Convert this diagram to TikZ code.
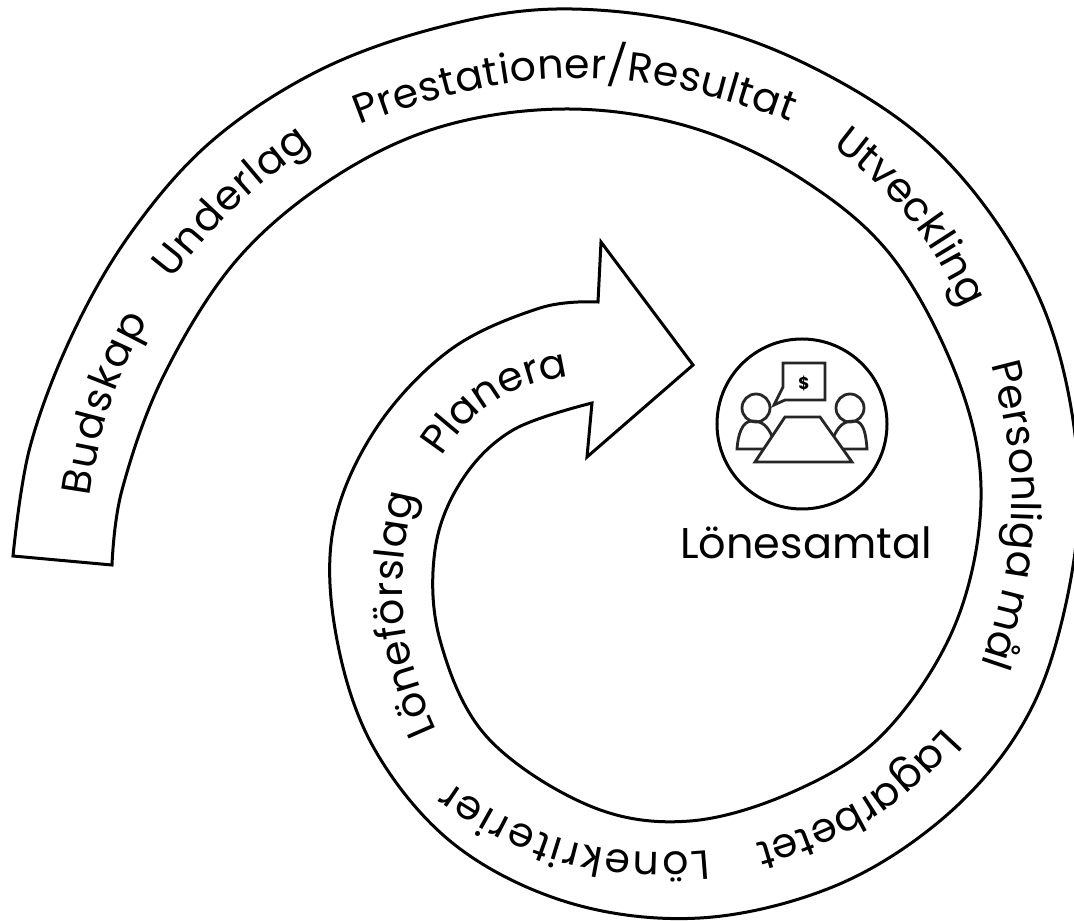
\documentclass[tikz,border=0pt]{standalone}
\usepackage{fontspec}
\setmainfont{Poppins}
\usetikzlibrary{decorations.text}
\tikzset{
 word/.style={decorate,decoration={text along path,text align=fit to path,text={|\fontsize{41}{44}\selectfont|#1}}},
 outline/.style={draw=black,line width=3pt,line join=miter,fill=white},
 icon/.style={draw=black!85,line width=2.8pt,line join=miter},
}
\begin{document}
\begin{tikzpicture}[x=1pt,y=1pt,shift={(0pt,921pt)}]
\useasboundingbox (0,0) rectangle (1074,-921);
% spiral arrow
\draw[outline] plot[smooth,tension=0.6] coordinates {(13,-556)(30,-447)(73,-333)(133,-230)(213,-140)(320,-70)(440,-27)(557,-9)(690,-23)(810,-66)(925,-140)(1010,-243)(1060,-357)(1079,-500)(1057,-640)(1013,-740)(935,-825)(830,-888)(700,-918)(570,-903)(455,-845)(375,-750)(337,-640)(333,-530)(375,-430)(450,-350)(540,-308)(598,-302)}
 -- (601,-242) -- (693,-365) -- (587,-457) -- (592,-403)
 -- plot[smooth,tension=0.6] coordinates {(592,-403)(513,-430)(462,-480)(435,-550)(440,-640)(487,-737)(590,-806)(690,-821)(797,-790)(885,-732)(955,-625)(981,-500)(960,-385)(893,-258)(800,-178)(690,-127)(567,-109)(440,-127)(330,-180)(235,-262)(163,-377)(122,-490)(112,-565)} -- cycle;
% words
\path[word={Budskap}] (90,-497) to[bend left=10] (148,-320);
\path[word={Underlag}] (172,-280) to[bend left=8] (312,-145);
\path[word={Prestationer/Resultat}] (360,-125) to[bend left=21] (790,-122);
\path[word={Utveckling}] (832,-147) to[bend left=14] (963,-308);
\path[word={Personliga mål}] (991,-365) to[bend left=17] (981,-664);
\path[word={Lagarbetet}] (943,-727) to[bend left=16] (757,-843);
\path[word={Lönekriterier}] (708,-850) to[bend left=20] (450,-782);
\path[word={Löneförslag}] (437,-730) to[bend left=19] (415,-495);
\path[word={Planera}] (442,-457) to[bend left=24] (565,-377);
% icon
\node[circle,draw=black,line width=3pt,minimum size=170pt,inner sep=0pt] (round) at (802,-424) {};
\node[font=\fontsize{43}{46}\selectfont] (title) at (806,-543) {Lönesamtal};
\node[circle,icon,minimum size=28pt,inner sep=0pt] (headL) at (756,-408) {};
\node[circle,icon,minimum size=28pt,inner sep=0pt] (headR) at (850,-408) {};
\draw[icon] (783,-363) -- (825,-363) -- (825,-400) -- (785,-400) -- (774,-405) -- (783,-387) -- cycle;
\node[font=\fontsize{17}{18}\selectfont\bfseries] (dollar) at (804,-384) {\$};
\draw[icon] (772,-436) .. controls (768,-428) and (764,-421) .. (752,-421) .. controls (742,-421) and (738,-435) .. (737,-449) -- (763,-449);
\draw[icon] (834,-436) .. controls (838,-428) and (842,-421) .. (854,-421) .. controls (864,-421) and (866,-435) .. (867,-449) -- (843,-449);
\draw[icon] (755,-462) -- (785,-417) -- (820,-417) -- (852,-462) -- cycle;
\end{tikzpicture}
\end{document}
